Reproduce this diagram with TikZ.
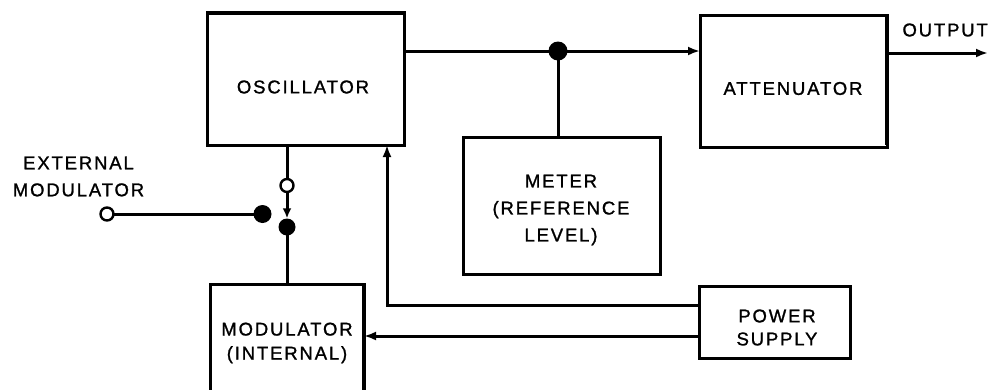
\documentclass[tikz,border=0pt]{standalone}
\usepackage{fontspec}
\setmainfont{Liberation Sans}[LetterSpace=10,FakeBold=1.2]
\usetikzlibrary{arrows.meta}
\begin{document}
\begin{tikzpicture}[x=1pt,y=-1pt,
  blk/.style={draw,line width=3pt,inner sep=0pt,outer sep=0pt},
  lbl/.style={inner sep=0pt,align=center,font=\fontsize{18.5}{#1}\selectfont},
  lbl/.default=27,
  wire/.style={line width=3pt},
  tip/.style={-{Latex[length=12pt,width=9pt]}},
  fdot/.style={circle,fill=black,inner sep=0pt,minimum size=#1},
  odot/.style={circle,draw,line width=2.4pt,fill=white,inner sep=0pt,minimum size=13pt}
]
\clip (0,0) rectangle (989,389);
\fill[white] (0,0) rectangle (989,389);

% boxes
\node[blk,minimum width=197pt,minimum height=132pt] (osc) at (305.5,79) {};
\node[blk,minimum width=187pt,minimum height=132pt] (att) at (793.5,81) {};
\node[blk,minimum width=197pt,minimum height=137pt] (met) at (561.5,205.5) {};
\node[blk,minimum width=151pt,minimum height=72pt] (ps) at (774.5,322) {};
\node[blk,minimum width=154pt,minimum height=116pt] (mod) at (287,342) {};

% heavier edges
\draw[line width=4.4pt] ([xshift=-1pt]osc.north west) -- ([xshift=2pt]osc.north east);
\draw[line width=4pt] ([yshift=-1pt]att.north east) -- ([yshift=2pt]att.south east);
\draw[line width=3.8pt] ([yshift=-2pt]mod.north east) -- (mod.south east);

% labels
\node[lbl] (osct) at (303,87) {OSCILLATOR};
\node[lbl] (attt) at (793,88.5) {ATTENUATOR};
\node[lbl=27] (mett) at (561,210) {METER\\(REFERENCE\\LEVEL)};
\node[lbl=23] (pst) at (777,327.5) {POWER\\SUPPLY};
\node[lbl=24] (modt) at (287,343) {MODULATOR\\(INTERNAL)};
\node[lbl=27] (extt) at (78.5,176.5) {EXTERNAL\\MODULATOR};
\node[lbl,anchor=east] (outt) at (988,30) {OUTPUT};

% coordinates
\coordinate (jn) at (558,51);
\coordinate (outend) at (988,53);
\coordinate (oc) at (287,185.5);
\coordinate (fd) at (287,227);
\coordinate (ec) at (107,214);
\coordinate (ed) at (262.5,214);
\coordinate (pwr) at (387,305);
\coordinate (pm) at (600,336);

% connectors
\draw[wire,tip] (jn -| osc.east) -- (jn -| att.west);
\draw[wire] (jn) -- (jn |- met.north);
\draw[wire,tip] (att.east |- outend) -- (outend);
\draw[wire] (osc.south -| oc) -- (oc);
\draw[wire] (fd) -- (mod.north -| fd);
\draw[wire] (ec) -- (ed);
\draw[wire,tip] (pwr -| ps.west) -| (osc.south -| pwr);
\draw[wire,tip] (pm -| ps.west) -- (pm -| mod.east);

% dots
\node[fdot=19pt] (jdot) at (jn) {};
\node[odot] (ocirc) at (oc) {};
\node[fdot=17pt] (fdot1) at (fd) {};
\node[odot] (ecirc) at (ec) {};
\node[fdot=18pt] (edot) at (ed) {};
\draw[wire,-{Latex[length=10pt,width=9pt]}] (ocirc.south) -- (fdot1.north);
\end{tikzpicture}
\end{document}
